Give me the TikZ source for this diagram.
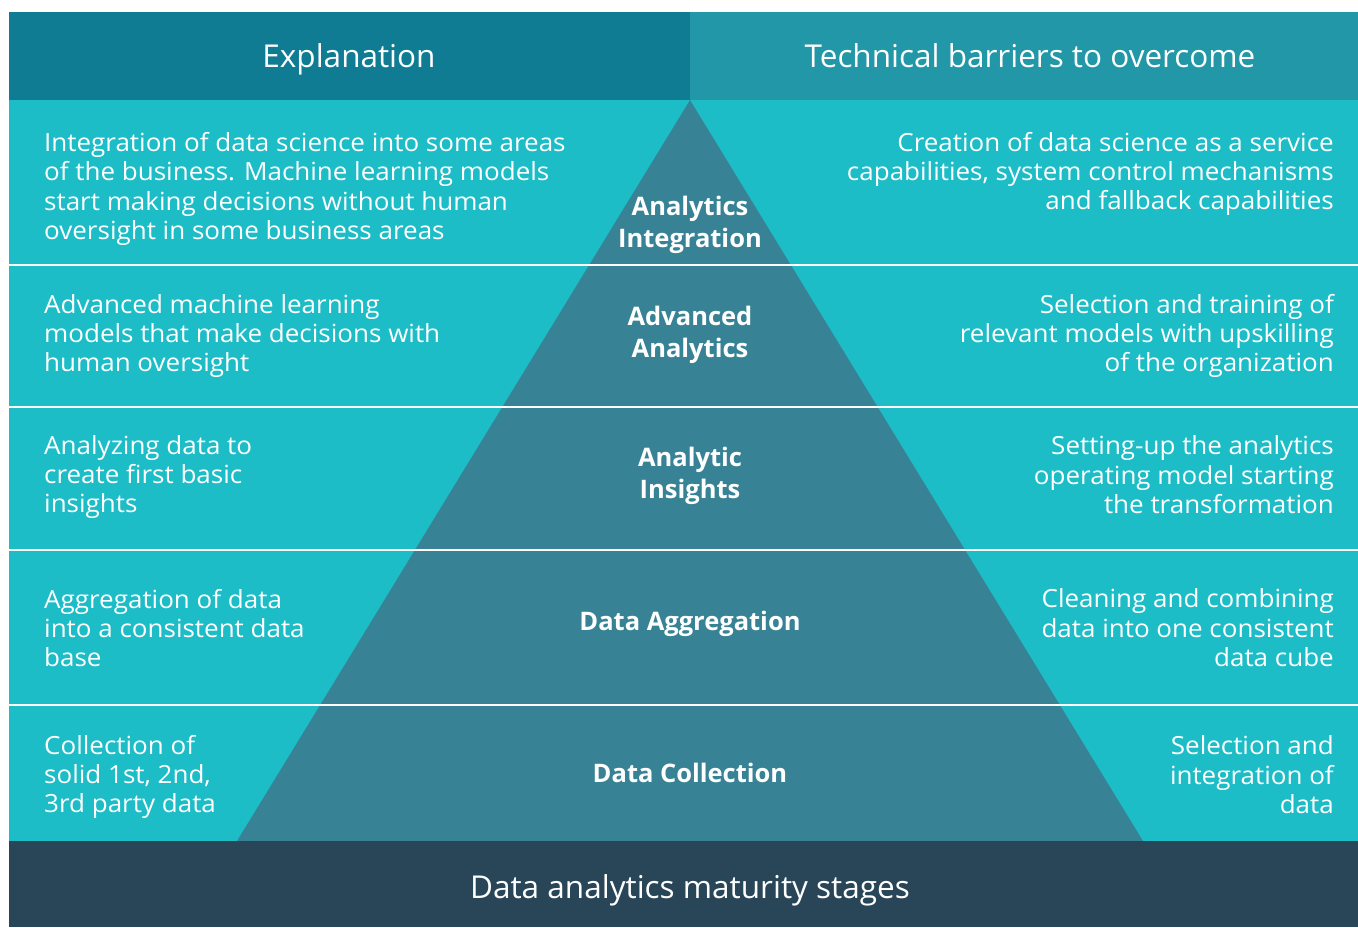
\documentclass[tikz,border=0pt]{standalone}
\usepackage{fontspec}
\setmainfont{Open Sans}
\newfontfamily\bodyfont[FakeStretch=1.04]{Open Sans}
\definecolor{hdrL}{HTML}{0F7C93}
\definecolor{hdrR}{HTML}{2297A7}
\definecolor{bodyc}{HTML}{1DBDC8}
\definecolor{pyrc}{HTML}{378395}
\definecolor{botc}{HTML}{284657}
\begin{document}
\begin{tikzpicture}[x=1pt,y=-1pt,
  txt/.style={text=white,inner sep=0pt,font=\bodyfont\fontsize{25}{29.4}\selectfont},
  ltxt/.style={txt,anchor=west,align=left},
  rtxt/.style={txt,anchor=east,align=right},
  ptxt/.style={text=white,inner sep=0pt,align=center,font=\fontsize{25.5}{32}\selectfont\bfseries},
  htxt/.style={text=white,inner sep=0pt,font=\fontsize{31.5}{36}\selectfont},
  sep/.style={white,line width=2.5pt}]
\useasboundingbox (0,0) rectangle (1358,927);
\fill[white] (0,0) rectangle (1358,927);
% headers
\fill[hdrL] (9,12) rectangle (690,100);
\fill[hdrR] (690,12) rectangle (1358,100);
% body
\fill[bodyc] (9,100) rectangle (1358,841);
% pyramid
\fill[pyrc] (690,100) -- (1143,841) -- (237,841) -- cycle;
% bottom band
\fill[botc] (9,841) rectangle (1358,927);
% separators
\foreach \yy in {265,407,550,705}{\draw[sep] (9,\yy) -- (1358,\yy);}
% header texts
\node[htxt] (hL) at (349,59) {Explanation};
\node[htxt] (hR) at (1030,56) {Technical barriers to overcome};
\node[htxt] (bot) at (690,890) {Data analytics maturity stages};
% left texts
\node[ltxt] (l1) at (44,189) {Integration of data science into some areas\\of the business. Machine learning models\\start making decisions without human\\oversight in some business areas};
\node[ltxt] (l2) at (44,336) {Advanced machine learning\\models that make decisions with\\human oversight};
\node[ltxt] (l3) at (44,477) {Analyzing data to\\create first basic\\insights};
\node[ltxt] (l4) at (44,628) {Aggregation of data\\into a consistent data\\base};
\node[ltxt] (l5) at (44,777) {Collection of\\solid 1st, 2nd,\\3rd party data};
% right texts
\node[rtxt] (r1) at (1334,174) {Creation of data science as a service\\capabilities, system control mechanisms\\and fallback capabilities};
\node[rtxt] (r2) at (1334,336) {Selection and training of\\relevant models with upskilling\\of the organization};
\node[rtxt] (r3) at (1334,475) {Setting-up the analytics\\operating model starting\\the transformation};
\node[rtxt] (r4) at (1334,628) {Cleaning and combining\\data into one consistent\\data cube};
\node[rtxt] (r5) at (1334,775) {Selection and\\integration of\\data};
% pyramid labels
\node[ptxt] (p1) at (690,225) {Analytics\\Integration};
\node[ptxt] (p2) at (690,335) {Advanced\\Analytics};
\node[ptxt] (p3) at (690,476) {Analytic\\Insights};
\node[ptxt] (p4) at (690,624) {Data Aggregation};
\node[ptxt] (p5) at (690,773) {Data Collection};
\end{tikzpicture}
\end{document}
